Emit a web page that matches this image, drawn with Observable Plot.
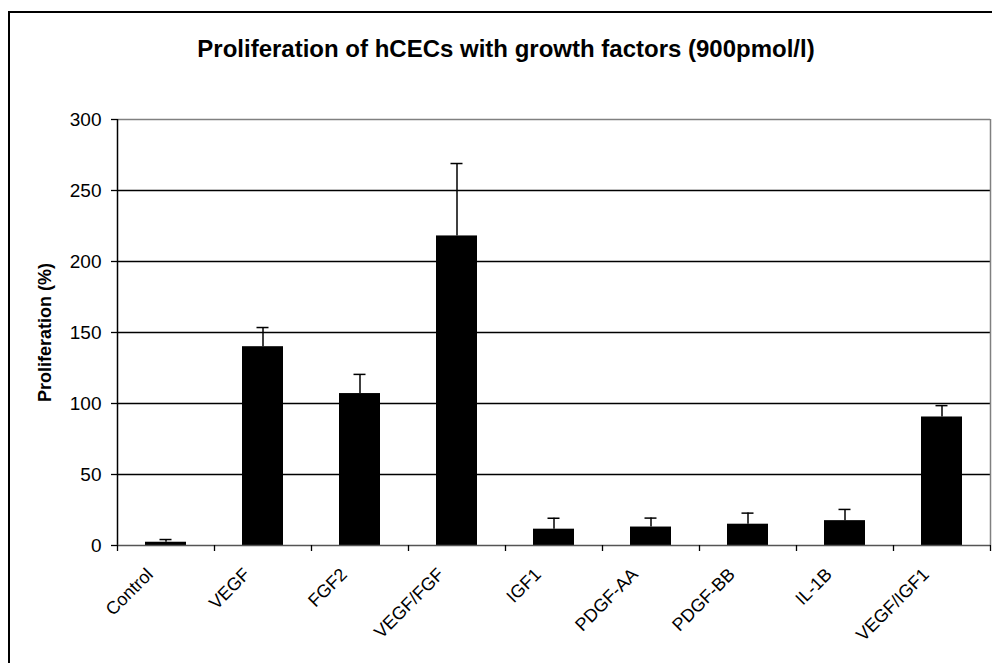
<!DOCTYPE html>
<html><head><meta charset="utf-8">
<script src="https://cdn.jsdelivr.net/npm/d3@7"></script>
<script src="https://cdn.jsdelivr.net/npm/@observablehq/plot@0.6"></script>
<style>
body{margin:0;background:#fff;}
#wrap{position:relative;width:992px;height:663px;overflow:hidden;font-family:"Liberation Sans",Arial,sans-serif;}
#border{position:absolute;left:8px;top:11px;width:1000px;height:700px;border:2px solid #000;box-sizing:border-box;}
#title{position:absolute;left:0;width:1012px;top:35px;text-align:center;font-weight:bold;font-size:24px;line-height:28px;color:#000;white-space:nowrap;}
#chart{position:absolute;left:0;top:0;}
</style></head><body>
<div id="wrap"><div id="border"></div><div id="title">Proliferation of hCECs with growth factors (900pmol/l)</div><div id="chart"></div></div>
<script>
const categories = ["Control","VEGF","FGF2","VEGF/FGF","IGF1","PDGF-AA","PDGF-BB","IL-1B","VEGF/IGF1"];
const values = [2.3,140,107,218,11.5,13,15,17.5,90.5];
const errors = [1.9,13.5,13.5,51,7.7,6.3,7.8,7.9,8];
const yTicks = [0,50,100,150,200,250,300];
const yLabel = "Proliferation (%)";

const data = categories.map((c,i)=>({c,i,v:values[i],e:errors[i]}));
const idx = d3.range(categories.length);

const chart = Plot.plot({
  width:992, height:663, marginLeft:117, marginRight:2, marginTop:119, marginBottom:118,
  style:{fontFamily:"'Liberation Sans', Arial, sans-serif", fontSize:"18px", color:"#000", background:"transparent", overflow:"visible"},
  x:{domain:[0,categories.length], axis:null},
  y:{domain:[0,300], axis:null},
  marks:[
    Plot.ruleY(yTicks.filter(t=>t>0 && t<300), {stroke:"#000", strokeWidth:1.3}),
    Plot.ruleY([300], {stroke:"#808080", strokeWidth:1.5}),
    Plot.ruleX([categories.length], {stroke:"#808080", strokeWidth:1.5}),
    Plot.rectY(data, {x1:"i", x2:d=>d.i+1, y:"v", fill:"#000", insetLeft:28, insetRight:28}),
    Plot.ruleX(data, {x:d=>d.i+0.5, y1:"v", y2:d=>d.v+d.e, stroke:"#000", strokeWidth:1.5}),
    Plot.ruleY(data, {x1:d=>d.i+0.5, x2:d=>d.i+0.5, y:d=>d.v+d.e, insetLeft:-6, insetRight:-6, stroke:"#000", strokeWidth:1.5}),
    Plot.axisY({ticks:yTicks, tickSize:6, tickPadding:10, fontSize:19, label:null, strokeWidth:1.3}),
    Plot.ruleX([0], {stroke:"#000", strokeWidth:1.5}),
    Plot.ruleY([0], {stroke:"#555", strokeWidth:1.5}),
    Plot.axisX({ticks:d3.range(categories.length+1), tickFormat:()=>"", tickSize:6, label:null, strokeWidth:1.3}),
    Plot.axisX({ticks:idx.map(i=>i+0.5), tickFormat:d=>categories[Math.floor(d)], tickSize:0, tickPadding:12, tickRotate:-45, fontSize:18, label:null, dx:-16, dy:14}),
    Plot.text([yLabel], {frameAnchor:"left", textAnchor:"middle", rotate:-90, dx:-72, fontWeight:"bold", fontSize:18, fill:"#000"})
  ]
});
document.getElementById("chart").appendChild(chart);
</script>
</body></html>
